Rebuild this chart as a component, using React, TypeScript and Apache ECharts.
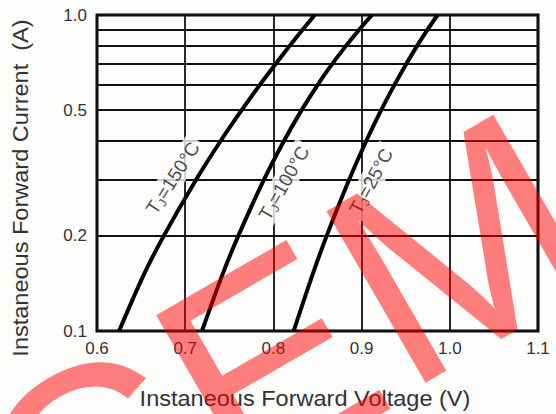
import React, { useEffect, useRef } from "react";
import * as echarts from "echarts";

// Instantaneous forward current (A), sampled for every curve
const currents = [0.1, 0.15, 0.2, 0.3, 0.4, 0.5, 0.6, 0.7, 0.8, 0.9, 1.0];
// Instantaneous forward voltage (V) at those currents
const volts150 = [0.625, 0.6527, 0.6757, 0.712, 0.7403, 0.764, 0.7844, 0.8025, 0.8186, 0.8333, 0.8468];
const volts100 = [0.719, 0.7419, 0.7602, 0.789, 0.8121, 0.832, 0.85, 0.8667, 0.8825, 0.8975, 0.9117];
const volts25 = [0.823, 0.8441, 0.8604, 0.8856, 0.9054, 0.9222, 0.9371, 0.9506, 0.9631, 0.9749, 0.9861];

// horizontal grid lines of the log axis, and which of them carry a label
const gridCurrents = [0.2, 0.3, 0.4, 0.5, 0.6, 0.7, 0.8, 0.9];
const labeledCurrents = [0.2, 0.5];

// curve labels (temperature, anchor voltage, anchor current)
const labelTemps = ["150", "100", "25"];
const labelVolts = [0.686, 0.812, 0.911];
const labelCurrents = [0.305, 0.294, 0.298];
const labelAngles = [57, 60, 62];

// watermark letters
const watermarkLetters = ["C", "E", "M"];

const FONT = '"Liberation Sans", Arial, Helvetica, sans-serif';
const BG = "#fdfdfb";

export default function App() {
  const ref = useRef<HTMLDivElement>(null);

  useEffect(() => {
    const chart = echarts.init(ref.current as HTMLDivElement, null, { renderer: "svg" });

    const curve = (name: string, volts: number[]) => ({
      type: "line",
      name,
      data: volts.map((v, i) => [v, currents[i]]),
      smooth: 0.3,
      symbol: "none",
      showSymbol: false,
      silent: true,
      z: 4,
      lineStyle: { color: "#000", width: 4 },
    });

    const wmPos = [
      [93, 469],
      [268, 364],
      [459, 248],
    ];

    chart.setOption({
      animation: false,
      backgroundColor: BG,
      grid: {
        left: 97,
        right: 18,
        top: 15,
        bottom: 83,
        show: true,
        borderColor: "#000",
        borderWidth: 3,
      },
      xAxis: {
        type: "value",
        min: 0.6,
        max: 1.1,
        interval: 0.1,
        axisLine: { show: false },
        axisTick: { show: false },
        axisLabel: {
          formatter: (v: number) => v.toFixed(1),
          fontSize: 17,
          color: "#333",
          fontFamily: FONT,
          margin: 9,
        },
        splitLine: { show: true, lineStyle: { color: "#111", width: 1.8 } },
      },
      yAxis: {
        type: "log",
        logBase: 10,
        min: 0.1,
        max: 1,
        axisLine: { show: false },
        axisTick: { show: false },
        axisLabel: {
          formatter: (v: number) => Number(v).toFixed(1),
          fontSize: 17,
          color: "#333",
          fontFamily: FONT,
          margin: 10,
        },
        splitLine: { show: true, lineStyle: { color: "#111", width: 1.8 } },
      },
      series: [
        curve("150", volts150),
        curve("100", volts100),
        curve("25", volts25),
        {
          type: "scatter",
          silent: true,
          z: 3,
          symbolSize: 1,
          itemStyle: { color: "rgba(0,0,0,0)" },
          data: labelTemps.map((t, i) => ({
            value: [labelVolts[i], labelCurrents[i]],
            label: {
              show: true,
              position: "inside",
              rotate: labelAngles[i],
              formatter: `{t|T}{j|J}{t|=${t}°C}`,
            },
          })),
          label: {
            show: true,
            backgroundColor: BG,
            padding: [1, 4],
            rich: {
              t: { fontSize: 19, fontFamily: FONT, color: "#1a1a1a", lineHeight: 22 },
              j: { fontSize: 12, fontFamily: FONT, color: "#1a1a1a", lineHeight: 8, verticalAlign: "bottom" },
            },
          },
          markLine: {
            silent: true,
            symbol: "none",
            z: 1,
            animation: false,
            lineStyle: { color: "#111", width: 1.8, type: "solid" },
            label: {
              position: "start",
              distance: 10,
              fontSize: 17,
              color: "#333",
              fontFamily: FONT,
            },
            emphasis: { disabled: true },
            data: gridCurrents.map((c) => ({
              yAxis: c,
              label: { show: labeledCurrents.includes(c), formatter: c.toFixed(1) },
            })),
          },
        },
      ],
      graphic: [
        {
          type: "text",
          x: 305,
          y: 398,
          scaleX: 1.07,
          style: {
            text: "Instaneous Forward Voltage (V)",
            fontSize: 22,
            fontFamily: FONT,
            fill: "#333",
            align: "center",
            verticalAlign: "middle",
          },
        },
        {
          type: "text",
          x: 20,
          y: 188,
          rotation: Math.PI / 2,
          scaleX: 1.07,
          style: {
            text: "Instaneous Forward Current  (A)",
            fontSize: 22,
            fontFamily: FONT,
            fill: "#333",
            align: "center",
            verticalAlign: "middle",
          },
        },
        ...watermarkLetters.map((ch, i) => ({
          type: "text",
          x: wmPos[i][0],
          y: wmPos[i][1],
          rotation: (30 * Math.PI) / 180,
          z: 100,
          silent: true,
          style: {
            text: ch,
            fontSize: 288,
            fontFamily: FONT,
            fill: "rgba(255,0,0,0.5)",
            align: "center",
            verticalAlign: "middle",
          },
        })),
      ],
    });

    return () => chart.dispose();
  }, []);

  return (
    <div
      ref={ref}
      style={{ position: "fixed", left: 0, top: 0, width: 556, height: 414 }}
    />
  );
}
